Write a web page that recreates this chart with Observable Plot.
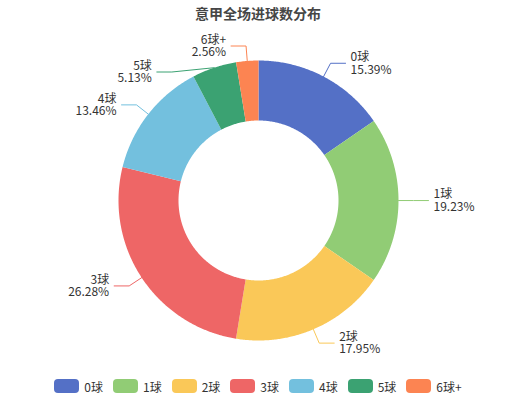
<!DOCTYPE html>
<html><head><meta charset="utf-8">
<script src="https://cdn.jsdelivr.net/npm/d3@7"></script>
<script src="https://cdn.jsdelivr.net/npm/@observablehq/plot@0.6"></script>
<style>
body{margin:0;width:516px;height:400px;overflow:hidden;background:#fff;font-family:"Noto Sans CJK SC","Microsoft YaHei",sans-serif;}
#title{height:26px;line-height:26px;text-align:center;font-size:14px;font-weight:bold;color:#464646;}
#chart{height:340px;}
#legend{display:flex;justify-content:center;align-items:center;padding-top:6px;height:28px;font-size:12px;color:#333;}
.item{display:flex;align-items:center;margin:0 5px;}
.sw{width:25px;height:14px;border-radius:4px;margin-right:5px;}
</style></head>
<body>
<div id="title"></div>
<div id="chart"></div>
<div id="legend"></div>
<script>
const title = "意甲全场进球数分布";
const categories = ["0球","1球","2球","3球","4球","5球","6球+"];
const percentages = [15.39,19.23,17.95,26.28,13.46,5.13,2.56];
const colors = ["#5470c6","#91cc75","#fac858","#ee6666","#73c0de","#3ba272","#fc8452"];

document.getElementById("title").textContent = title;

const W = 516, H = 340;
const R0 = 80, R1 = 140, LEN1 = 15, LEN2 = 15, GAP = 5, LABEL_H = 26;
const total = d3.sum(percentages);

// slices (angle clockwise from top)
const slices = [];
let cum = 0;
categories.forEach((name, i) => {
  const a0 = cum / total * 2 * Math.PI;
  cum += percentages[i];
  const a1 = cum / total * 2 * Math.PI;
  slices.push({name, value: percentages[i], a0, a1, mid: (a0 + a1) / 2});
});

const poly = [];
for (const s of slices) {
  const n = Math.max(2, Math.ceil((s.a1 - s.a0) / (Math.PI / 360)));
  for (let k = 0; k <= n; k++) {
    const a = s.a0 + (s.a1 - s.a0) * k / n;
    poly.push({name: s.name, x: R1 * Math.sin(a), y: R1 * Math.cos(a)});
  }
  for (let k = n; k >= 0; k--) {
    const a = s.a0 + (s.a1 - s.a0) * k / n;
    poly.push({name: s.name, x: R0 * Math.sin(a), y: R0 * Math.cos(a)});
  }
}

// labels
const labels = slices.map(s => {
  const dir = Math.sin(s.mid) < 0 ? -1 : 1;
  return {
    name: s.name, dir,
    px: R1 * Math.sin(s.mid), py: R1 * Math.cos(s.mid),
    ex: (R1 + LEN1) * Math.sin(s.mid), ey: (R1 + LEN1) * Math.cos(s.mid),
    text: s.name + "\n" + s.value.toFixed(2) + "%"
  };
});
for (const dir of [-1, 1]) {
  const side = labels.filter(d => d.dir === dir).sort((a, b) => b.ey - a.ey);
  for (let i = 1; i < side.length; i++) {
    const prev = side[i - 1], cur = side[i];
    if (prev.ey - cur.ey < LABEL_H) {
      cur.ey = prev.ey - LABEL_H;
      const RR = R1 + LEN1;
      cur.ex = dir * Math.sqrt(Math.max(0, RR * RR - cur.ey * cur.ey));
    }
  }
}
const lines = [];
for (const d of labels) {
  d.hx = d.ex + d.dir * LEN2;
  d.tx = d.hx + d.dir * GAP;
  d.ty = d.ey;
  lines.push({name: d.name, x: d.px, y: d.py});
  lines.push({name: d.name, x: d.ex, y: d.ey});
  lines.push({name: d.name, x: d.hx, y: d.ey});
}

const chart = Plot.plot({
  width: W, height: H,
  marginTop: 0, marginRight: 0, marginBottom: 0, marginLeft: 0,
  x: {domain: [-258, 258], range: [0, W], axis: null},
  y: {domain: [-166, 174], range: [H, 0], axis: null},
  color: {domain: categories, range: colors},
  style: {fontFamily: '"Noto Sans CJK SC","Microsoft YaHei",sans-serif', background: "transparent", overflow: "visible"},
  marks: [
    Plot.line(poly, {x: "x", y: "y", z: "name", fill: "name", stroke: "none", curve: "linear-closed"}),
    Plot.line(lines, {x: "x", y: "y", z: "name", stroke: "name", strokeWidth: 1}),
    Plot.text(labels.filter(d => d.dir > 0), {x: "tx", y: "ty", text: "text", textAnchor: "start", fontSize: 12, fill: "#333", lineHeight: 1.05}),
    Plot.text(labels.filter(d => d.dir < 0), {x: "tx", y: "ty", text: "text", textAnchor: "end", fontSize: 12, fill: "#333", lineHeight: 1.05})
  ]
});
document.getElementById("chart").appendChild(chart);

const legend = document.getElementById("legend");
categories.forEach((c, i) => {
  const item = document.createElement("div");
  item.className = "item";
  const sw = document.createElement("div");
  sw.className = "sw";
  sw.style.background = colors[i];
  const t = document.createElement("span");
  t.textContent = c;
  item.appendChild(sw);
  item.appendChild(t);
  legend.appendChild(item);
});
</script>
</body></html>
